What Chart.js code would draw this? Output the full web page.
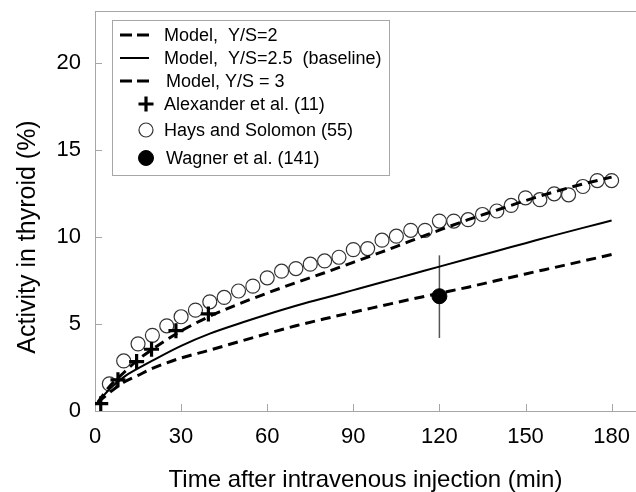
<!DOCTYPE html>
<html>
<head>
<meta charset="utf-8">
<script src="https://cdn.jsdelivr.net/npm/chart.js@4.4.1/dist/chart.umd.min.js"></script>
<style>
  html, body { margin: 0; padding: 0; background: #fff; }
  #wrap { width: 636px; height: 492px; }
</style>
</head>
<body>
<div id="wrap"><canvas id="chart" width="636" height="492"></canvas></div>
<script>
// model curves
const modelTimes = [1, 5, 10, 15, 20, 30, 40, 50, 60, 70, 80, 90, 100, 110, 120, 130, 140, 150, 160, 170, 180];
const modelYS2 = [0.5, 1.4, 2.2, 2.95, 3.55, 4.6, 5.45, 6.15, 6.78, 7.38, 7.95, 8.55, 9.15, 9.78, 10.4, 11.0, 11.55, 12.1, 12.6, 13.05, 13.45];
const modelYS25 = [0.5, 1.25, 1.95, 2.45, 2.9, 3.75, 4.45, 5.02, 5.55, 6.05, 6.5, 6.95, 7.4, 7.85, 8.3, 8.75, 9.2, 9.65, 10.1, 10.53, 10.95];
const modelYS3 = [0.5, 1.05, 1.65, 2.05, 2.45, 3.05, 3.5, 3.98, 4.45, 4.9, 5.3, 5.68, 6.05, 6.42, 6.77, 7.12, 7.5, 7.88, 8.25, 8.62, 9.0];

// measured data
const alexanderTimes = [2, 8, 14.5, 19.7, 28.2, 39.5];
const alexanderValues = [0.42, 1.79, 2.84, 3.55, 4.62, 5.58];

const haysTimes = [5, 10, 15, 20, 25, 30, 35, 40, 45, 50, 55, 60, 65, 70, 75, 80, 85, 90,
                   95, 100, 105, 110, 115, 120, 125, 130, 135, 140, 145, 150, 155, 160, 165, 170, 175, 180];
const haysValues = [1.56, 2.88, 3.86, 4.35, 4.9, 5.42, 5.8, 6.28, 6.53, 6.9, 7.18, 7.66, 8.04, 8.19, 8.44, 8.63, 8.84, 9.28,
                    9.34, 9.82, 10.05, 10.39, 10.39, 10.92, 10.92, 11.0, 11.3, 11.5, 11.82, 12.26, 12.15, 12.49, 12.43, 12.91, 13.25, 13.25];

const wagnerTimes = [120];
const wagnerValues = [6.6];
const wagnerLow = [4.2];
const wagnerHigh = [8.95];

const xTicks = [0, 30, 60, 90, 120, 150, 180];
const yTicks = [0, 5, 10, 15, 20];

const FONT = 'Arial, "Liberation Sans", sans-serif';
const FRAME = '#a6a6a6';

const pts = (xs, ys) => xs.map((x, i) => ({ x: x, y: ys[i] }));

// legend drawn inside the plot, plus inward tick marks and the y title
const extras = {
  id: 'extras',
  afterDraw(chart) {
    const { ctx, chartArea, scales } = chart;
    const x = scales.x, y = scales.y;
    ctx.save();

    // inward ticks
    ctx.strokeStyle = FRAME;
    ctx.lineWidth = 1;
    ctx.setLineDash([]);
    x.ticks.forEach(t => {
      if (t.value === 0) return;
      const px = Math.round(x.getPixelForValue(t.value)) + 0.5;
      ctx.beginPath(); ctx.moveTo(px, chartArea.bottom); ctx.lineTo(px, chartArea.bottom - 7); ctx.stroke();
    });
    y.ticks.forEach(t => {
      if (t.value === 0) return;
      const py = Math.round(y.getPixelForValue(t.value)) + 0.5;
      ctx.beginPath(); ctx.moveTo(chartArea.left, py); ctx.lineTo(chartArea.left + 7, py); ctx.stroke();
    });

    // y title
    ctx.save();
    ctx.translate(28, 237);
    ctx.rotate(-Math.PI / 2);
    ctx.font = '25px ' + FONT;
    ctx.fillStyle = '#000';
    ctx.textAlign = 'center';
    ctx.textBaseline = 'middle';
    ctx.fillText('Activity in thyroid (%)', 0, 0);
    ctx.restore();

    // legend box
    ctx.strokeStyle = FRAME;
    ctx.lineWidth = 1;
    ctx.fillStyle = '#fff';
    ctx.fillRect(112.5, 20.5, 277, 155);
    ctx.strokeRect(112.5, 20.5, 277, 155);

    const rowY = [35, 58, 81, 104, 130, 158];
    const items = chart.data.datasets.filter(d => d.label);
    ctx.font = '18px ' + FONT;
    ctx.textBaseline = 'middle';
    ctx.textAlign = 'left';
    items.forEach((d, i) => {
      const ry = rowY[i];
      if (d.showLine) {
        ctx.strokeStyle = d.borderColor;
        ctx.lineWidth = d.borderWidth;
        ctx.setLineDash(d.borderDash ? [12, 5] : []);
        ctx.beginPath(); ctx.moveTo(120, ry); ctx.lineTo(149, ry); ctx.stroke();
        ctx.setLineDash([]);
      } else {
        ctx.strokeStyle = d.borderColor;
        ctx.fillStyle = d.backgroundColor;
        ctx.lineWidth = d.pointBorderWidth;
        Chart.helpers.drawPoint(ctx, { pointStyle: d.pointStyle, radius: d.pointRadius, borderWidth: d.pointBorderWidth, rotation: 0 }, 146, ry);
      }
      ctx.fillStyle = '#000';
      ctx.fillText(d.label, i === 2 || i === 5 ? 166 : 164, ry + 1);
    });
    ctx.restore();
  }
};

new Chart(document.getElementById('chart'), {
  type: 'scatter',
  data: {
    datasets: [
      {
        label: 'Model,  Y/S=2',
        data: pts(modelTimes, modelYS2),
        showLine: true, borderColor: '#000', borderWidth: 3, borderDash: [10, 6],
        pointRadius: 0, cubicInterpolationMode: 'monotone'
      },
      {
        label: 'Model,  Y/S=2.5  (baseline)',
        data: pts(modelTimes, modelYS25),
        showLine: true, borderColor: '#000', borderWidth: 2,
        pointRadius: 0, cubicInterpolationMode: 'monotone'
      },
      {
        label: 'Model, Y/S = 3',
        data: pts(modelTimes, modelYS3),
        showLine: true, borderColor: '#000', borderWidth: 3, borderDash: [10, 6],
        pointRadius: 0, cubicInterpolationMode: 'monotone'
      },
      {
        label: 'Alexander et al. (11)',
        data: pts(alexanderTimes, alexanderValues),
        pointStyle: 'cross', pointRadius: 7.5, pointBorderWidth: 3.2,
        borderColor: '#000', backgroundColor: '#000'
      },
      {
        label: 'Hays and Solomon (55)',
        data: pts(haysTimes, haysValues),
        pointStyle: 'circle', pointRadius: 7, pointBorderWidth: 1.2,
        borderColor: '#333', backgroundColor: 'rgba(0,0,0,0)'
      },
      {
        label: 'Wagner et al. (141)',
        data: pts(wagnerTimes, wagnerValues),
        pointStyle: 'circle', pointRadius: 7.5, pointBorderWidth: 1,
        borderColor: '#000', backgroundColor: '#000'
      },
      {
        // error bar of the Wagner point
        data: [{ x: wagnerTimes[0], y: wagnerLow[0] }, { x: wagnerTimes[0], y: wagnerHigh[0] }],
        showLine: true, borderColor: '#555', borderWidth: 1.5, pointRadius: 0
      }
    ]
  },
  options: {
    responsive: false,
    animation: false,
    layout: { autoPadding: false, padding: { top: 11, left: 0, right: 0, bottom: 0 } },
    plugins: { legend: { display: false }, tooltip: { enabled: false } },
    scales: {
      x: {
        type: 'linear', min: 0, max: 188.5,
        afterBuildTicks: s => { s.ticks = xTicks.map(v => ({ value: v })); },
        afterFit: s => { s.height = 81; s.paddingLeft = 0; s.paddingRight = 0; },
        grid: { display: false, drawTicks: false },
        border: { color: FRAME, width: 1 },
        ticks: { font: { size: 22, family: FONT }, color: '#000', padding: 13, maxRotation: 0 },
        title: { display: true, text: 'Time after intravenous injection (min)', font: { size: 24, family: FONT }, color: '#000', padding: { top: 0, bottom: -3 } }
      },
      x2: {
        type: 'linear', position: 'top', min: 0, max: 188.5,
        afterFit: s => { s.height = 0; s.paddingLeft = 0; s.paddingRight = 0; },
        grid: { display: false, drawTicks: false },
        border: { color: FRAME, width: 1 },
        ticks: { display: false }
      },
      y: {
        type: 'linear', min: 0, max: 23,
        afterBuildTicks: s => { s.ticks = yTicks.map(v => ({ value: v })); },
        afterFit: s => { s.width = 95; s.paddingTop = 0; s.paddingBottom = 0; },
        grid: { display: false, drawTicks: false },
        border: { color: FRAME, width: 1 },
        ticks: { font: { size: 22, family: FONT }, color: '#000', padding: 14 }
      }
    }
  },
  plugins: [extras]
});
</script>
</body>
</html>
